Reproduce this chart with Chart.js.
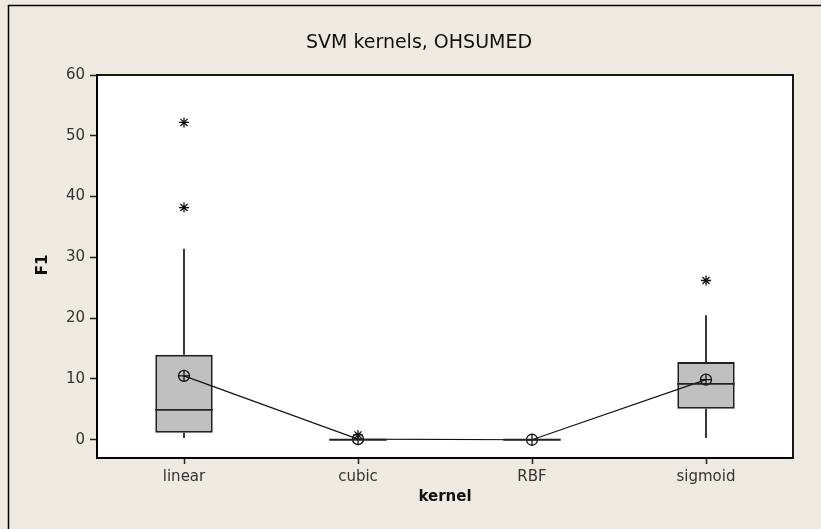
<!DOCTYPE html>
<html>
<head>
<meta charset="utf-8">
<script src="https://cdn.jsdelivr.net/npm/chart.js@4/dist/chart.umd.min.js"></script>
<style>
html,body{margin:0;padding:0;background:#eeeae1;}
canvas{display:block;}
</style>
</head>
<body>
<canvas id="c" width="821" height="529"></canvas>
<script>
// ---- data ----
const categories = ['linear', 'cubic', 'RBF', 'sigmoid'];
const q1Values = [1.15, 0, 0, 5.1];
const medianValues = [4.9, 0, 0, 9.2];
const q3Values = [14.0, 0, 0, 12.8];
const whiskerLow = [0.3, 0, 0, 0.3];
const whiskerHigh = [31.4, 0, 0, 20.5];
const meanValues = [10.5, 0.1, 0, 9.9];
const outlierCats = ['linear', 'linear', 'cubic', 'sigmoid'];
const outlierValues = [52.2, 38.2, 0.8, 26.2];
const yTickValues = [0, 10, 20, 30, 40, 50, 60];
const titleText = 'SVM kernels, OHSUMED';
const xTitle = 'kernel';
const yTitle = 'F1';

const BG = '#eeeae1';
const FONT = '"DejaVu Sans", Verdana, sans-serif';

const framePlugin = {
  id: 'frame',
  beforeDraw(chart) {
    const ctx = chart.ctx, a = chart.chartArea;
    ctx.save();
    ctx.fillStyle = BG;
    ctx.fillRect(0, 0, chart.width, chart.height);
    ctx.strokeStyle = '#000';
    ctx.lineWidth = 1.5;
    ctx.beginPath();
    ctx.moveTo(8.5, chart.height);
    ctx.lineTo(8.5, 5.5);
    ctx.lineTo(chart.width, 5.5);
    ctx.stroke();
    ctx.fillStyle = '#fff';
    ctx.fillRect(a.left, a.top, a.right - a.left, a.bottom - a.top);
    ctx.restore();
  },
  afterDraw(chart) {
    const ctx = chart.ctx, a = chart.chartArea;
    ctx.save();
    ctx.strokeStyle = '#000';
    ctx.lineWidth = 1.8;
    ctx.strokeRect(a.left, a.top, a.right - a.left, a.bottom - a.top);
    ctx.fillStyle = '#111';
    ctx.textAlign = 'center';
    ctx.textBaseline = 'middle';
    ctx.font = '19px ' + FONT;
    ctx.fillText(titleText, 419, 43);
    ctx.font = 'bold 15px ' + FONT;
    ctx.fillText(xTitle, (a.left + a.right) / 2, 497);
    ctx.translate(43, 265);
    ctx.rotate(-Math.PI / 2);
    ctx.fillText(yTitle, 0, 0);
    ctx.restore();
  }
};

const boxPlugin = {
  id: 'boxparts',
  afterDatasetsDraw(chart) {
    const ctx = chart.ctx;
    const xs = chart.scales.x, ys = chart.scales.y;
    const meta = chart.getDatasetMeta(0);
    ctx.save();
    ctx.strokeStyle = '#222';
    ctx.lineWidth = 1.8;
    categories.forEach((c, i) => {
      const px = Math.round(xs.getPixelForValue(i));
      const w = meta.data[i].width;
      ctx.beginPath();
      if (whiskerHigh[i] > q3Values[i]) {
        ctx.moveTo(px, ys.getPixelForValue(q3Values[i]));
        ctx.lineTo(px, ys.getPixelForValue(whiskerHigh[i]));
      }
      if (whiskerLow[i] < q1Values[i]) {
        ctx.moveTo(px, ys.getPixelForValue(q1Values[i]));
        ctx.lineTo(px, ys.getPixelForValue(whiskerLow[i]));
      }
      const my = ys.getPixelForValue(medianValues[i]);
      ctx.moveTo(px - w / 2, my);
      ctx.lineTo(px + w / 2, my);
      ctx.stroke();
    });
    ctx.restore();
  }
};

new Chart(document.getElementById('c'), {
  type: 'bar',
  data: {
    labels: categories,
    datasets: [
      {
        type: 'bar',
        data: categories.map((c, i) => [q1Values[i], q3Values[i]]),
        backgroundColor: '#c0c0c0',
        borderColor: '#222',
        borderWidth: 2,
        borderSkipped: false,
        barPercentage: 0.33,
        categoryPercentage: 1,
        order: 3
      },
      {
        type: 'line',
        data: meanValues,
        borderColor: '#111',
        borderWidth: 1.2,
        pointStyle: 'circle',
        pointRadius: 5.5,
        pointBorderWidth: 1.3,
        pointBackgroundColor: 'rgba(0,0,0,0)',
        pointBorderColor: '#111',
        fill: false,
        tension: 0,
        order: 1
      },
      {
        type: 'line',
        data: meanValues,
        showLine: false,
        pointStyle: 'cross',
        pointRadius: 5.5,
        pointBorderWidth: 1.3,
        pointBorderColor: '#111',
        order: 0
      },
      {
        type: 'line',
        data: outlierCats.map((c, i) => ({x: c, y: outlierValues[i]})),
        showLine: false,
        pointStyle: 'star',
        pointRadius: 5,
        pointBorderWidth: 1.3,
        pointBorderColor: '#111',
        order: 0
      }
    ]
  },
  options: {
    responsive: false,
    animation: false,
    devicePixelRatio: 1,
    layout: { padding: { left: 0, right: 28, top: 75, bottom: 0 } },
    plugins: { legend: { display: false }, title: { display: false }, tooltip: { enabled: false } },
    scales: {
      x: {
        type: 'category',
        offset: true,
        grid: { offset: false, drawOnChartArea: false, tickLength: 6, color: '#222', tickWidth: 1.5 },
        border: { display: true, color: '#000', width: 1.8 },
        ticks: { color: '#333', font: { family: FONT, size: 15 }, padding: 4, maxRotation: 0 },
        afterFit(scale) { scale.height = 71; }
      },
      y: {
        min: -3,
        max: 60,
        grid: { drawOnChartArea: false, tickLength: 7, color: '#222', tickWidth: 1.5 },
        border: { display: true, color: '#000', width: 1.8 },
        ticks: { color: '#333', font: { family: FONT, size: 15 }, padding: 5 },
        afterBuildTicks(scale) { scale.ticks = yTickValues.map(v => ({ value: v })); },
        afterFit(scale) { scale.width = 97; }
      }
    }
  },
  plugins: [framePlugin, boxPlugin]
});
</script>
</body>
</html>
